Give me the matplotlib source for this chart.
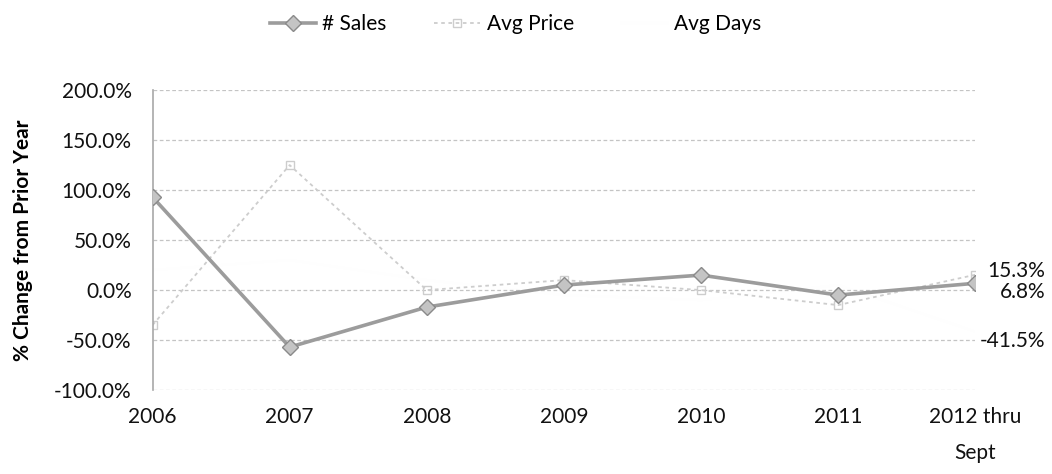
import numpy as np
import matplotlib as mpl
mpl.use("Agg")
import matplotlib.pyplot as plt
from matplotlib.ticker import FuncFormatter

# data (% change from prior year)
years = ["2006", "2007", "2008", "2009", "2010", "2011", "2012 thru\nSept"]
sales = [93.0, -57.0, -17.0, 5.0, 15.0, -5.0, 6.8]
avg_price = [-35.0, 125.0, 0.0, 10.0, 0.0, -15.0, 15.3]
avg_days = [20.0, 30.0, 10.0, -5.0, -10.0, 5.0, -41.5]

plt.rcParams['font.family'] = ['Lato', 'DejaVu Sans']

fig = plt.figure(figsize=(10.52, 4.74), dpi=100)
ax = fig.add_axes([0.145, 0.177, 0.782, 0.633])

x = np.arange(len(years))

# gridlines
ax.set_ylim(-100, 200)
ax.set_yticks(np.arange(-100, 201, 50))
ax.grid(axis='y', color='#c4c4c4', lw=0.9, ls=(0, (3, 2)), zorder=0)

ax.plot(x, avg_days, color='#fefefe', lw=1.5, zorder=1, label='Avg Days')
ax.plot(x, avg_price, color='#cdcdcd', lw=1.3, ls=(0, (2, 2)), marker='s', ms=6,
        mfc='none', mec='#cdcdcd', zorder=2, label='Avg Price')
ax.plot(x, sales, color='#9c9c9c', lw=2.6, marker='D', ms=8, mfc='#c4c4c4',
        mec='#8a8a8a', zorder=3, label='# Sales')

# data labels at the last point, right aligned
offsets = {'# Sales': (sales[-1], -6), 'Avg Price': (avg_price[-1], 3), 'Avg Days': (avg_days[-1], -7)}
for name, (val, dy) in offsets.items():
    ax.annotate("%.1f%%" % val, xy=(x[-1], val), xytext=(70, dy * 100 / 72), textcoords='offset pixels',
                ha='right', va='center', fontsize=15, color='#111111', annotation_clip=False)

ax.set_xlim(0, len(years) - 1)
ax.set_xticks(x)
ax.set_xticklabels(years, fontsize=15, multialignment='center', linespacing=2.0, color='#111111')
ax.yaxis.set_major_formatter(FuncFormatter(lambda v, p: "%.1f%%" % v))
ax.tick_params(axis='y', labelsize=15, length=0, pad=15, labelcolor='#111111')
ax.tick_params(axis='x', length=0, pad=12)
for side in ['top', 'right', 'bottom']:
    ax.spines[side].set_visible(False)
ax.spines['left'].set_color('#a8a8a8')
ax.spines['left'].set_linewidth(1.2)

ax.set_ylabel("% Change from Prior Year", fontsize=15, fontweight='bold', labelpad=15)

handles, labels = ax.get_legend_handles_labels()
order = [2, 1, 0]
fig.legend([handles[i] for i in order], [labels[i] for i in order], loc='upper center',
           bbox_to_anchor=(0.49, 1.01), ncol=3, frameon=False, fontsize=15,
           handlelength=2.2, handletextpad=0.3, columnspacing=2.3)

fig.savefig("out.png", dpi=100)
